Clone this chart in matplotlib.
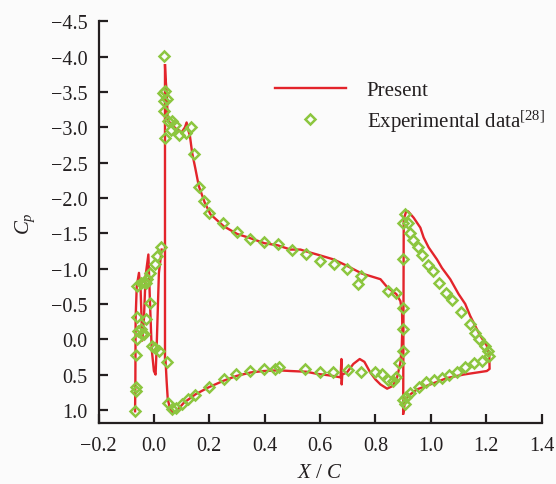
import numpy as np
import matplotlib
matplotlib.use("Agg")
import matplotlib.pyplot as plt
from matplotlib.ticker import FuncFormatter

plt.rcParams['font.family'] = ['Liberation Serif', 'DejaVu Serif']
plt.rcParams['mathtext.fontset'] = 'custom'
plt.rcParams['mathtext.rm'] = 'Liberation Serif'
plt.rcParams['mathtext.it'] = 'Liberation Serif:italic'

# "Present" computed Cp, traced element by element (slat, main element, flap)
slat_x = [-0.068, -0.067, -0.066, -0.062, -0.054, -0.048, -0.042, -0.036, -0.030,
          -0.020, -0.014, -0.008, 0.000, 0.006, 0.010, 0.018, 0.028]
slat_y = [1.02, 0.60, -0.30, -0.75, -0.94, -0.70, 0.02, -0.30, -0.90,
          -1.20, -0.50, 0.14, 0.45, 0.50, 0.10, -0.94, -1.27]

main_x = [0.040, 0.040, 0.042, 0.046, 0.050, 0.058, 0.070, 0.085, 0.108, 0.150,
          0.198, 0.250, 0.298, 0.350, 0.397, 0.450, 0.493, 0.550, 0.589, 0.630,
          0.661, 0.674, 0.677, 0.678, 0.680, 0.697, 0.720, 0.743, 0.760, 0.781,
          0.800, 0.818, 0.842, 0.863, 0.878, 0.890, 0.895, 0.897, 0.896, 0.890,
          0.875, 0.844, 0.818, 0.785, 0.751, 0.697, 0.649, 0.589, 0.553, 0.529,
          0.493, 0.447, 0.399, 0.349, 0.301, 0.252, 0.204, 0.183, 0.162, 0.150,
          0.138, 0.130, 0.124, 0.118, 0.112, 0.100, 0.080, 0.062, 0.050, 0.046,
          0.042, 0.040]
main_y = [-3.88, 0.28, 0.30, 0.60, 0.85, 0.98, 1.04, 1.00, 0.90, 0.78,
          0.68, 0.59, 0.52, 0.47, 0.45, 0.44, 0.45, 0.46, 0.49, 0.51,
          0.53, 0.54, 0.28, 0.64, 0.50, 0.47, 0.35, 0.28, 0.32, 0.47,
          0.57, 0.64, 0.70, 0.66, 0.54, 0.33, 0.10, -0.15, -0.38, -0.54,
          -0.64, -0.73, -0.85, -0.89, -0.93, -1.04, -1.13, -1.20, -1.24, -1.27,
          -1.27, -1.33, -1.36, -1.43, -1.49, -1.60, -1.77, -1.94, -2.17, -2.41,
          -2.64, -2.88, -2.96, -3.07, -3.00, -2.93, -2.98, -3.05, -3.10, -3.50,
          -3.70, -3.88]

flap_x = [0.900, 0.902, 0.910, 0.918, 0.938, 0.962, 0.974, 0.992, 1.022, 1.040,
          1.070, 1.100, 1.124, 1.142, 1.178, 1.202, 1.211, 1.212, 1.202, 1.118,
          1.058, 0.998, 0.950, 0.926, 0.908, 0.900]
flap_y = [1.05, -1.70, -1.80, -1.81, -1.72, -1.58, -1.44, -1.30, -1.13, -1.01,
          -0.85, -0.64, -0.50, -0.33, -0.05, 0.09, 0.24, 0.42, 0.45, 0.50,
          0.55, 0.64, 0.71, 0.78, 0.85, 1.05]

# experimental data [28]
exp_x = [-0.068, -0.066, -0.066, -0.064, -0.060, -0.058, -0.060, -0.048, -0.042, -0.034,
         -0.030, -0.014, -0.008, 0.003, 0.018, -0.060, -0.048, -0.036, -0.027, -0.024,
         -0.014, 0.003, 0.012, 0.024,
         0.046, 0.050, 0.066, 0.078, 0.102, 0.123, 0.148, 0.198, 0.252, 0.298,
         0.346, 0.399, 0.439, 0.451, 0.545, 0.601, 0.647, 0.701, 0.749, 0.800,
         0.824, 0.845, 0.863, 0.875, 0.884,
         0.036, 0.040, 0.034, 0.046, 0.036, 0.036, 0.050, 0.066, 0.076, 0.060,
         0.090, 0.117, 0.135, 0.040, 0.144, 0.162, 0.180, 0.198, 0.249, 0.301,
         0.346, 0.399, 0.447, 0.497, 0.550, 0.599, 0.649, 0.697, 0.748, 0.737,
         0.844, 0.874, 0.899, 0.899, 0.899, 0.898,
         0.908, 0.899, 0.916, 0.926, 0.935, 0.952, 0.968, 0.988, 1.006, 1.028,
         1.056, 1.076, 1.110, 1.140, 1.160, 1.172, 1.196, 1.208, 1.211,
         1.184, 1.154, 1.124, 1.096, 1.066, 1.040, 1.012, 0.983, 0.956, 0.926,
         0.911, 0.898, 0.905]
exp_y = [1.01, 0.68, 0.73, 0.23, -0.01, -0.12, -0.32, -0.14, -0.08, -0.07,
         -0.29, -0.51, 0.10, 0.12, 0.17, -0.76, -0.79, -0.81, -0.79, -0.85,
         -0.94, -1.06, -1.18, -1.31,
         0.32, 0.90, 0.99, 0.97, 0.92, 0.85, 0.79, 0.68, 0.57, 0.49,
         0.45, 0.42, 0.42, 0.40, 0.42, 0.46, 0.46, 0.44, 0.46, 0.46,
         0.49, 0.58, 0.59, 0.53, 0.33,
         -4.01, -3.52, -3.48, -3.40, -3.38, -3.23, -3.09, -3.09, -3.03, -2.96,
         -2.89, -2.92, -3.01, -2.85, -2.62, -2.15, -1.96, -1.79, -1.64, -1.52,
         -1.42, -1.38, -1.35, -1.26, -1.20, -1.11, -1.06, -0.99, -0.90, -0.78,
         -0.69, -0.65, -0.44, -0.15, 0.16, -1.13,
         -1.77, -1.65, -1.65, -1.50, -1.41, -1.31, -1.19, -1.05, -0.97, -0.79,
         -0.66, -0.55, -0.38, -0.21, -0.085, 0.0, 0.10, 0.17, 0.24,
         0.31, 0.34, 0.40, 0.46, 0.50, 0.55, 0.58, 0.61, 0.67, 0.76,
         0.82, 0.86, 0.91]

red = '#e3242b'
green = '#8cc63f'
ink = '#231f20'

fig = plt.figure(figsize=(5.56, 4.85), dpi=100)
fig.patch.set_facecolor('#fbfbfb')
ax = fig.add_axes([0.1772, 0.1252, 0.797, 0.8285])
ax.set_facecolor('#fbfbfb')

ax.plot(main_x, main_y, color=red, lw=1.7, label='Present')
ax.plot(slat_x, slat_y, color=red, lw=1.7)
ax.plot(flap_x, flap_y, color=red, lw=1.7)
ax.plot(exp_x, exp_y, ls='none', marker='D', ms=5, mfc='none', mec=green, mew=1.8,
        label='Experimental data$^{[28]}$')

ax.set_xlim(-0.2, 1.4)
ax.set_ylim(1.19, -4.5)
ax.set_xticks(np.arange(-0.2, 1.41, 0.2))
ax.set_yticks(np.arange(-4.5, 1.01, 0.5))
fmt = FuncFormatter(lambda v, p: f"{round(v, 1) + 0.0:.1f}".replace('-', '\u2212'))
ax.xaxis.set_major_formatter(fmt)
ax.yaxis.set_major_formatter(fmt)

for s in ['top', 'right']:
    ax.spines[s].set_visible(False)
for s in ['left', 'bottom']:
    ax.spines[s].set_linewidth(1.6)
    ax.spines[s].set_color(ink)
ax.tick_params(direction='in', length=6.5, width=1.6, color=ink, labelsize=14.5,
               labelcolor=ink)
ax.tick_params(axis='y', pad=8)
ax.tick_params(axis='x', pad=9)

ax.set_xlabel('$X$ / $C$', fontsize=15, color=ink, labelpad=6)
ax.set_ylabel('$C_p$', fontsize=15, color=ink, labelpad=10)

leg = ax.legend(loc='upper left', bbox_to_anchor=(0.398, 0.853), frameon=False,
                fontsize=15, handlelength=3.4, handletextpad=1.0, borderpad=0,
                borderaxespad=0, labelspacing=0.35, labelcolor=ink)

fig.savefig('out.png', dpi=100, facecolor=fig.get_facecolor())
